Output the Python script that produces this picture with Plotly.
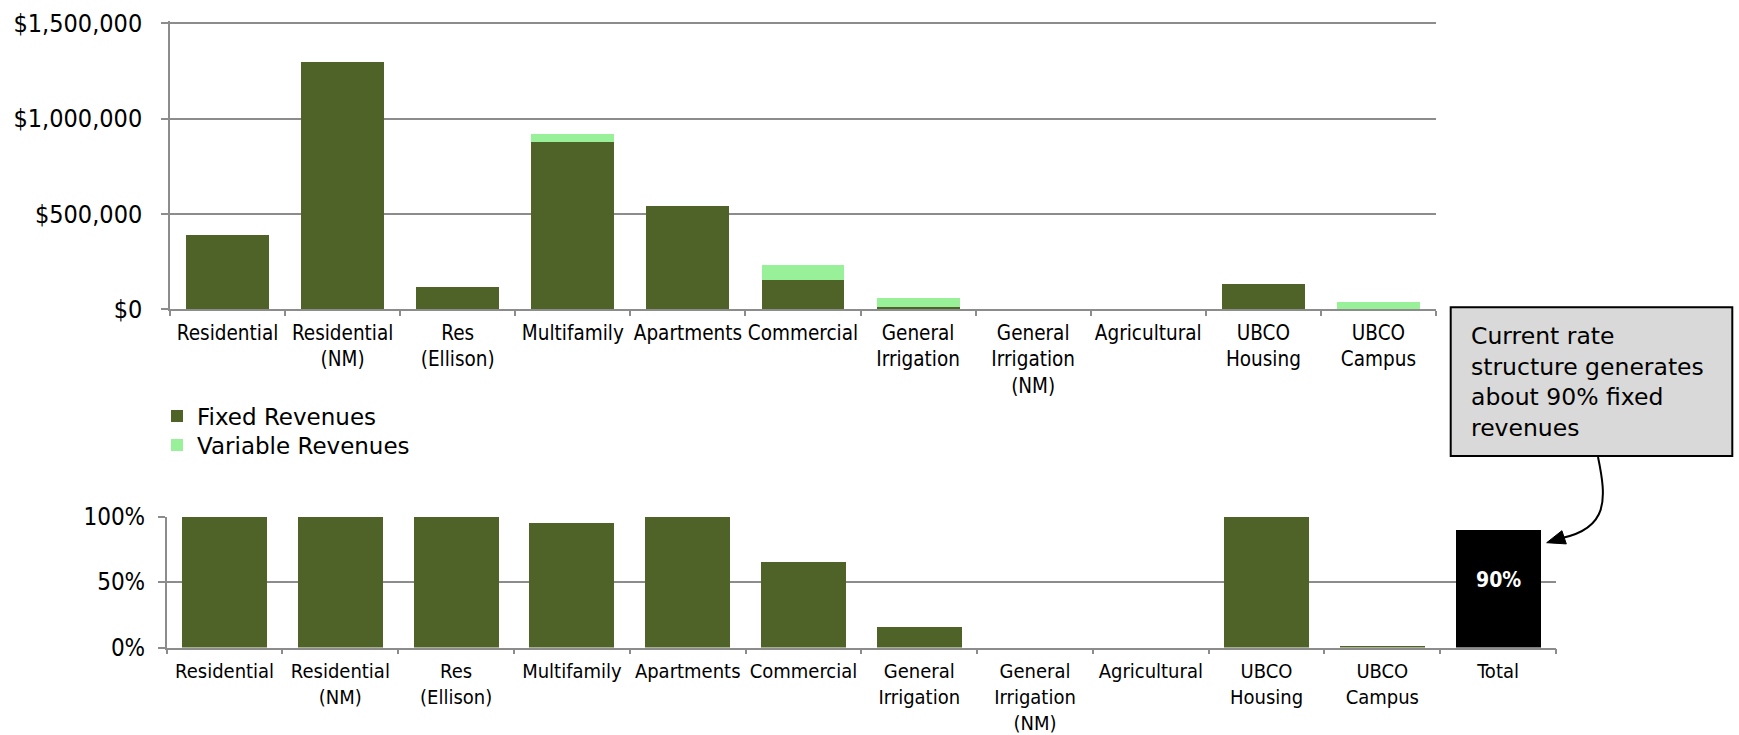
import plotly.graph_objects as go

# ---- data -------------------------------------------------------------
categories = [
    "Residential", "Residential<br>(NM)", "Res<br>(Ellison)", "Multifamily",
    "Apartments", "Commercial", "General<br>Irrigation",
    "General<br>Irrigation<br>(NM)", "Agricultural", "UBCO<br>Housing",
    "UBCO<br>Campus",
]
fixed_revenues = [389000, 1299000, 117000, 877000, 543000, 152000,
                  10500, 0, 0, 131000, 500]
variable_revenues = [0, 0, 0, 42000, 0, 83000, 47500, 0, 0, 0, 36500]

fixed_share = [1.00, 1.00, 1.00, 0.95, 1.00, 0.65, 0.16, 0.0, 0.0, 1.00, 0.013]
total_label = ["Total"]
total_fixed_share = [0.90]

revenue_ticks = [0, 500000, 1000000, 1500000]
share_ticks = [0, 0.5, 1.0]

# ---- layout helpers ----------------------------------------------------
W, H = 1739, 735


def px(x):
    return x / W


def py(y):
    return 1 - y / H


FONT = "DejaVu Sans Condensed, DejaVu Sans, sans-serif"
FONT_WIDE = "DejaVu Sans, sans-serif"
DARK = "#4F6228"
LIGHT = "#98F098"
GRID = "#8C8C8C"

fig = go.Figure()

# top: stacked revenue bars (each series gets its own legend row)
fig.add_trace(go.Bar(
    x=categories, y=fixed_revenues, name="Fixed Revenues",
    marker=dict(color=DARK, line=dict(width=0)), width=0.72,
    xaxis="x", yaxis="y", legend="legend",
))
fig.add_trace(go.Bar(
    x=categories, y=variable_revenues, name="Variable Revenues",
    marker=dict(color=LIGHT, line=dict(width=0)), width=0.72,
    xaxis="x", yaxis="y", legend="legend2",
))

# bottom: share of fixed revenue
fig.add_trace(go.Bar(
    x=categories, y=fixed_share, showlegend=False,
    marker=dict(color=DARK, line=dict(width=0)), width=0.735,
    xaxis="x2", yaxis="y2",
))
fig.add_trace(go.Bar(
    x=total_label, y=total_fixed_share, showlegend=False,
    marker=dict(color="black", line=dict(width=0)), width=0.735,
    xaxis="x2", yaxis="y2",
))
fig.add_annotation(
    xref="x2", yref="y2", x=total_label[0], y=total_fixed_share[0] / 2,
    yshift=9, showarrow=False,
    text=f"<b>{total_fixed_share[0]:.0%}</b>",
    font=dict(color="white", size=21, family=FONT),
)

axis_common = dict(
    showline=True, linecolor=GRID, linewidth=1.5,
    ticks="outside", tickcolor=GRID, tickwidth=1.5,
    automargin=False, fixedrange=True,
)

legend_common = dict(
    xanchor="left", yanchor="middle",
    font=dict(size=23, family=FONT_WIDE), bgcolor="rgba(0,0,0,0)",
)

fig.update_layout(
    width=W, height=H,
    margin=dict(l=0, r=0, t=0, b=0),
    paper_bgcolor="white", plot_bgcolor="white",
    font=dict(family=FONT, color="black"),
    barmode="stack",
    showlegend=True,
    legend=dict(x=px(157), y=py(416), **legend_common),
    legend2=dict(x=px(157), y=py(445), **legend_common),
    xaxis=dict(
        domain=[px(170), px(1436)], anchor="y", type="category",
        categoryorder="array", categoryarray=categories,
        tickson="boundaries", ticklen=5, showgrid=False, tickangle=0,
        ticklabelstandoff=4, tickfont=dict(size=20.5), **axis_common,
    ),
    yaxis=dict(
        domain=[py(309.4), py(21)], anchor="x",
        range=[0, 1512000], tickvals=revenue_ticks, tickformat="$,.0f",
        showgrid=True, gridcolor=GRID, gridwidth=1.5, zeroline=False,
        ticklen=7, ticklabelstandoff=14, tickfont=dict(size=25),
        **axis_common,
    ),
    xaxis2=dict(
        domain=[px(166.7), px(1556)], anchor="y2", type="category",
        categoryorder="array", categoryarray=categories + total_label,
        tickson="boundaries", ticklen=5, showgrid=False, tickangle=0,
        ticklabelstandoff=5, tickfont=dict(size=20), **axis_common,
    ),
    yaxis2=dict(
        domain=[py(647.5), py(516.5)], anchor="x2",
        range=[0, 1], tickvals=share_ticks, tickformat=".0%",
        showgrid=True, gridcolor=GRID, gridwidth=1.5, zeroline=False,
        ticklen=7, ticklabelstandoff=8, tickfont=dict(size=24),
        **axis_common,
    ),
)

# callout box with curved arrow pointing at the total bar
fig.add_shape(
    type="rect", xref="paper", yref="paper",
    x0=px(1450.7), x1=px(1732.3), y0=py(456), y1=py(307.3),
    fillcolor="#D9D9D9", line=dict(color="black", width=2),
)
fig.add_annotation(
    xref="paper", yref="paper", x=px(1469), y=py(320),
    xanchor="left", yanchor="top", align="left", showarrow=False,
    text="Current rate<br>structure generates<br>about 90% fixed<br>revenues",
    font=dict(size=23.5, family=FONT_WIDE, color="black"),
)


def pt(x, y):
    return f"{px(x):.5f},{py(y):.5f}"


curve = (f"M {pt(1598, 457)} C {pt(1607, 500)} {pt(1608, 528)} "
         f"{pt(1562, 538)}")
fig.add_shape(type="path", xref="paper", yref="paper", path=curve,
              line=dict(color="black", width=2))
head = (f"M {pt(1546.7, 542.7)} L {pt(1566.3, 543.9)} "
        f"L {pt(1561.9, 530.7)} Z")
fig.add_shape(type="path", xref="paper", yref="paper", path=head,
              fillcolor="black", line=dict(color="black", width=1))

fig.write_html("out.html")
